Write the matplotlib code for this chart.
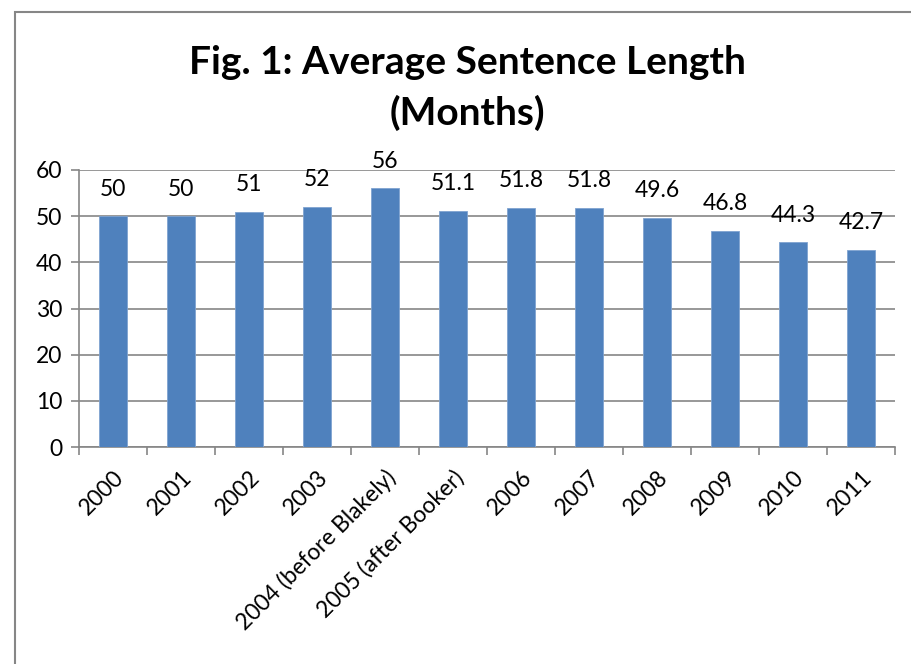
import matplotlib.pyplot as plt
from matplotlib.patches import Rectangle

categories = ["2000", "2001", "2002", "2003", "2004 (before Blakely)",
              "2005 (after Booker)", "2006", "2007", "2008", "2009", "2010", "2011"]
values = [50, 50, 51, 52, 56, 51.1, 51.8, 51.8, 49.6, 46.8, 44.3, 42.7]
labels = ["50", "50", "51", "52", "56", "51.1", "51.8", "51.8", "49.6", "46.8", "44.3", "42.7"]

plt.rcParams['font.family'] = ['Lato', 'DejaVu Sans']

W, H = 911, 664
fig = plt.figure(figsize=(W / 100, H / 100), dpi=100)

# chart frame (runs off the right and bottom edges)
fig.patches.append(Rectangle((15 / W, -0.1), 1.2, 1 - 12 / H + 0.1,
                             transform=fig.transFigure, fill=False,
                             edgecolor="#868686", linewidth=1.5))

ax = fig.add_axes([79 / W, 1 - 447 / H, 816 / W, 277 / H])
x = range(len(categories))
bars = ax.bar(x, values, width=0.41, color="#4F81BD", edgecolor="#7FA3D0",
              linewidth=0.6, zorder=3)

ax.set_xlim(-0.5, len(categories) - 0.5)
ax.set_ylim(0, 60)
ax.set_yticks(range(0, 61, 10))
ax.grid(axis="y", color="#868686", linewidth=1.2, zorder=0)

for s in ["top", "right"]:
    ax.spines[s].set_visible(False)
ax.spines["left"].set_color("#868686")
ax.spines["bottom"].set_color("#868686")
ax.spines["left"].set_linewidth(1.2)
ax.spines["bottom"].set_linewidth(1.2)

ax.tick_params(axis="y", length=6, width=1.2, color="#868686", labelsize=16.5, pad=6)
ax.set_xticks([i + 0.5 for i in range(-1, len(categories))], minor=False)
ax.set_xticklabels([])
ax.tick_params(axis="x", which="major", length=6, width=1.2, color="#868686")
ax.set_xticks(list(x), minor=True)
ax.set_xticklabels(categories, minor=True, rotation=45, ha="right",
                   rotation_mode="anchor", fontsize=16.5)
ax.tick_params(axis="x", which="minor", length=0, pad=14)

for b, lab in zip(bars, labels):
    ax.annotate(lab, (b.get_x() + b.get_width() / 2, b.get_height()),
                xytext=(0, 12), textcoords="offset points",
                ha="center", va="bottom", fontsize=16.5)

fig.text(467 / W, 1 - 62 / H, "Fig. 1: Average Sentence Length",
         ha="center", va="center", fontsize=28, fontweight="bold")
fig.text(467 / W, 1 - 113 / H, "(Months)",
         ha="center", va="center", fontsize=28, fontweight="bold")

fig.savefig("out.png", dpi=100)
